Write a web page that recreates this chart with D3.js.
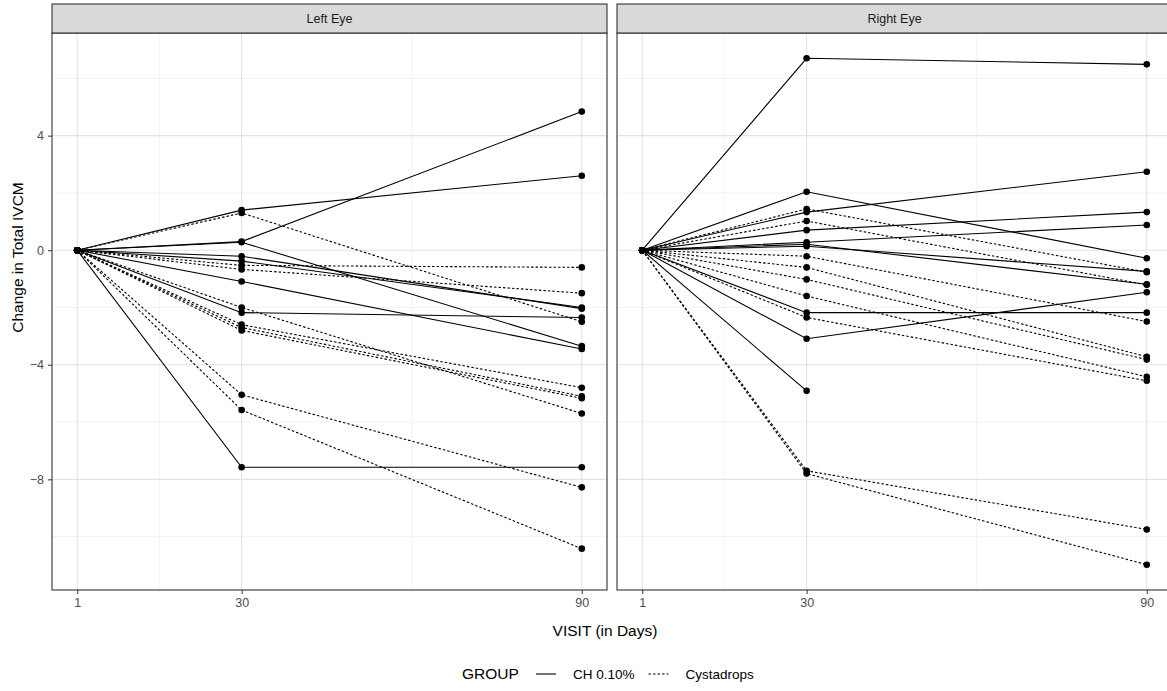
<!DOCTYPE html>
<html>
<head>
<meta charset="utf-8">
<script src="https://cdn.jsdelivr.net/npm/d3@7/dist/d3.min.js"></script>
<style>
  html, body { margin: 0; padding: 0; background: #fff; }
  svg { display: block; font-family: "Liberation Sans", Arial, sans-serif; }
</style>
</head>
<body>
<div id="chart"></div>
<script>
// Visits and tick labels
const VISITS = [1, 30, 90];
const Y_TICKS = [-8, -4, 0, 4];
const PANELS = ["Left Eye", "Right Eye"];
const GROUPS = ["CH 0.10%", "Cystadrops"];

// Left eye: group per subject, change at day 30 and day 90 (day 1 is 0)
const LEFT_GROUP = ["CH 0.10%", "CH 0.10%", "CH 0.10%", "CH 0.10%", "CH 0.10%", "CH 0.10%", "CH 0.10%", "CH 0.10%",
  "Cystadrops", "Cystadrops", "Cystadrops", "Cystadrops", "Cystadrops", "Cystadrops", "Cystadrops", "Cystadrops", "Cystadrops"];
const LEFT_D30 = [0.30, 1.40, -7.58, 0.28, -0.21, -1.09, -2.18, -0.38,
  1.30, -0.53, -0.67, -2.60, -2.70, -2.80, -2.00, -5.05, -5.58];
const LEFT_D90 = [4.84, 2.60, -7.58, -3.35, -2.04, -3.45, -2.35, -2.00,
  -2.50, -0.60, -1.50, -4.80, -5.10, -5.17, -5.70, -8.28, -10.42];

// Right eye
const RIGHT_GROUP = ["CH 0.10%", "CH 0.10%", "CH 0.10%", "CH 0.10%", "CH 0.10%", "CH 0.10%", "CH 0.10%", "CH 0.10%", "CH 0.10%", "CH 0.10%",
  "Cystadrops", "Cystadrops", "Cystadrops", "Cystadrops", "Cystadrops", "Cystadrops", "Cystadrops", "Cystadrops", "Cystadrops"];
const RIGHT_D30 = [6.70, 2.04, 1.33, 0.70, 0.28, 0.21, 0.14, -2.18, -3.09, -4.91,
  1.44, 1.02, -0.21, -0.60, -1.02, -1.60, -2.35, -7.70, -7.80];
const RIGHT_D90 = [6.49, -0.28, 2.74, 1.33, 0.88, -1.19, -0.74, -2.18, -1.47, null,
  -0.77, -1.21, -2.49, -3.72, -3.82, -4.42, -4.56, -9.75, -10.98];

function buildSeries(groups, d30, d90) {
  return groups.map((g, i) => ({
    group: g,
    values: [0, d30[i], d90[i]].map((v, j) => ({ visit: VISITS[j], v }))
  }));
}
const DATA = [
  buildSeries(LEFT_GROUP, LEFT_D30, LEFT_D90),
  buildSeries(RIGHT_GROUP, RIGHT_D30, RIGHT_D90)
];

const W = 1167, H = 691;
const panelX = [52, 617], panelW = 555;
const stripTop = 4, panelTop = 33, panelBottom = 590;
const DASH = { "CH 0.10%": null, "Cystadrops": "2.5,2" };

const svg = d3.select("#chart").append("svg")
  .attr("width", W).attr("height", H);
svg.append("rect").attr("width", W).attr("height", H).attr("fill", "#fff");

// shared y scale (ggplot 5% expansion)
const allV = DATA.flat().flatMap(s => s.values.map(d => d.v)).filter(v => v != null);
const yMin = d3.min(allV), yMax = d3.max(allV), yPad = (yMax - yMin) * 0.05;
const y = d3.scaleLinear().domain([yMin - yPad, yMax + yPad]).range([panelBottom, panelTop]);
const xPad = (90 - 1) * 0.05;

const yMinor = d3.range(-10, 8, 2).filter(v => !Y_TICKS.includes(v) && v > y.domain()[0] && v < y.domain()[1]);
const xMinor = [(VISITS[0] + VISITS[1]) / 2, (VISITS[1] + VISITS[2]) / 2];

PANELS.forEach((name, p) => {
  const x0 = panelX[p];
  const x = d3.scaleLinear().domain([1 - xPad, 90 + xPad]).range([x0, x0 + panelW]);
  const g = svg.append("g");

  // grid
  g.selectAll(".ymin").data(yMinor).enter().append("line")
    .attr("x1", x0).attr("x2", x0 + panelW).attr("y1", d => y(d)).attr("y2", d => y(d))
    .attr("stroke", "#ebebeb").attr("stroke-width", 0.6);
  g.selectAll(".xmin").data(xMinor).enter().append("line")
    .attr("y1", panelTop).attr("y2", panelBottom).attr("x1", d => x(d)).attr("x2", d => x(d))
    .attr("stroke", "#ebebeb").attr("stroke-width", 0.6);
  g.selectAll(".ymaj").data(Y_TICKS).enter().append("line")
    .attr("x1", x0).attr("x2", x0 + panelW).attr("y1", d => y(d)).attr("y2", d => y(d))
    .attr("stroke", "#e3e3e3").attr("stroke-width", 1.1);
  g.selectAll(".xmaj").data(VISITS).enter().append("line")
    .attr("y1", panelTop).attr("y2", panelBottom).attr("x1", d => x(d)).attr("x2", d => x(d))
    .attr("stroke", "#e3e3e3").attr("stroke-width", 1.1);

  // lines
  const line = d3.line().defined(d => d.v != null).x(d => x(d.visit)).y(d => y(d.v));
  g.selectAll(".ln").data(DATA[p]).enter().append("path")
    .attr("d", s => line(s.values))
    .attr("fill", "none").attr("stroke", "#000").attr("stroke-width", 1.1)
    .attr("stroke-dasharray", s => DASH[s.group]);

  // points
  const pts = DATA[p].flatMap(s => s.values.filter(d => d.v != null));
  g.selectAll(".pt").data(pts).enter().append("circle")
    .attr("cx", d => x(d.visit)).attr("cy", d => y(d.v)).attr("r", 3.3).attr("fill", "#000");

  // panel border
  g.append("rect").attr("x", x0).attr("y", panelTop).attr("width", panelW).attr("height", panelBottom - panelTop)
    .attr("fill", "none").attr("stroke", "#333").attr("stroke-width", 1.1);

  // strip
  g.append("rect").attr("x", x0).attr("y", stripTop).attr("width", panelW).attr("height", panelTop - stripTop)
    .attr("fill", "#d9d9d9").attr("stroke", "#333").attr("stroke-width", 1.1);
  g.append("text").attr("x", x0 + panelW / 2).attr("y", (stripTop + panelTop) / 2 + 4.5)
    .attr("text-anchor", "middle").style("font-size", "12.5px").style("fill", "#1a1a1a").text(name);

  // x axis
  const ax = g.append("g").attr("transform", `translate(0,${panelBottom})`)
    .call(d3.axisBottom(x).tickValues(VISITS).tickSize(4).tickPadding(4));
  ax.select(".domain").remove();
  ax.selectAll("line").attr("stroke", "#333");
  ax.selectAll("text").style("font-size", "12.5px").style("fill", "#4d4d4d")
    .style("font-family", "Liberation Sans, Arial, sans-serif");

  if (p === 0) {
    const ay = g.append("g").attr("transform", `translate(${x0},0)`)
      .call(d3.axisLeft(y).tickValues(Y_TICKS).tickSize(4).tickPadding(4));
    ay.select(".domain").remove();
    ay.selectAll("line").attr("stroke", "#333");
    ay.selectAll("text").style("font-size", "12.5px").style("fill", "#4d4d4d")
      .style("font-family", "Liberation Sans, Arial, sans-serif");
  }
});

// axis titles
svg.append("text").attr("x", 605).attr("y", 636).attr("text-anchor", "middle")
  .style("font-size", "15.5px").style("fill", "#000").text("VISIT (in Days)");
svg.append("text").attr("transform", `translate(23,${(panelTop + panelBottom) / 2 - 54}) rotate(-90)`)
  .attr("text-anchor", "middle").style("font-size", "15.5px").style("fill", "#000").text("Change in Total IVCM");

// legend
const lg = svg.append("g").attr("transform", "translate(462,679)");
lg.append("text").attr("x", 0).attr("y", 0).style("font-size", "15.5px").text("GROUP");
let lx = 74;
GROUPS.forEach(gname => {
  lg.append("line").attr("x1", lx).attr("x2", lx + 20).attr("y1", -5).attr("y2", -5)
    .attr("stroke", "#000").attr("stroke-width", 1.1).attr("stroke-dasharray", DASH[gname]);
  const t = lg.append("text").attr("x", lx + 37).attr("y", 0).style("font-size", "13.5px").text(gname);
  lx += 37 + t.node().getComputedTextLength() + 14;
});
</script>
</body>
</html>
